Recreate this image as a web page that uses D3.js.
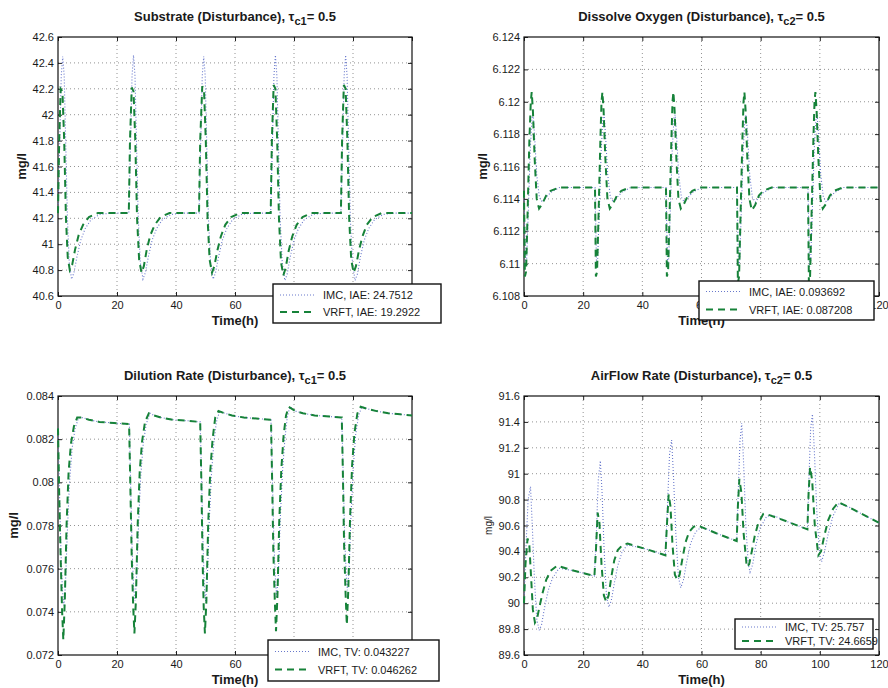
<!DOCTYPE html>
<html>
<head>
<meta charset="utf-8">
<script src="https://cdn.jsdelivr.net/npm/d3@7"></script>
<style>
  body { margin: 0; background: #fff; }
  text { font-family: "Liberation Sans", Arial, sans-serif; fill: #1a1a1a; }
</style>
</head>
<body>
<div id="chart"></div>
<script>
// x axis is the same for all four plots
var timeTicks = [0, 20, 40, 60, 80, 100, 120];

// ---- Substrate ----
var subTicks = [40.6, 40.8, 41, 41.2, 41.4, 41.6, 41.8, 42, 42.2, 42.4, 42.6];
var subImc = [
  [0, 41.24], [0.5, 41.7], [1.1, 42.3], [1.6, 42.45], [2.1, 42.3], [2.6, 41.8], [3.2, 41.2], [3.8, 40.86], [4.6, 40.73], [5.4, 40.78], [6.4, 40.9], [7.7, 41.03], [9.2, 41.12], [11.2, 41.19], [14.2, 41.23], [18, 41.24], [24.0, 41.24],
  [24.5, 41.7], [25.1, 42.3], [25.6, 42.46], [26.1, 42.3], [26.6, 41.8], [27.2, 41.2], [27.9, 40.86], [28.8, 40.73], [29.6, 40.78], [30.6, 40.9], [31.9, 41.03], [33.4, 41.12], [35.4, 41.19], [38.4, 41.23], [42, 41.24], [47.8, 41.24],
  [48.3, 41.7], [48.9, 42.3], [49.4, 42.45], [49.9, 42.3], [50.4, 41.8], [51.0, 41.2], [51.7, 40.86], [52.6, 40.73], [53.4, 40.78], [54.4, 40.9], [55.7, 41.03], [57.2, 41.12], [59.2, 41.19], [62.2, 41.23], [66, 41.24], [72.1, 41.24],
  [72.6, 41.7], [73.2, 42.3], [73.7, 42.46], [74.2, 42.3], [74.7, 41.8], [75.3, 41.2], [76.0, 40.86], [76.9, 40.72], [77.7, 40.77], [78.7, 40.9], [80.0, 41.03], [81.5, 41.12], [83.5, 41.19], [86.5, 41.23], [90, 41.24], [95.9, 41.24],
  [96.4, 41.7], [97.0, 42.3], [97.5, 42.46], [98.0, 42.3], [98.5, 41.8], [99.1, 41.2], [99.8, 40.86], [100.7, 40.72], [101.5, 40.77], [102.5, 40.9], [103.8, 41.03], [105.3, 41.12], [107.3, 41.19], [110.3, 41.23], [114, 41.24], [120, 41.24]
];
var subVrft = [
  [0, 41.24], [0.4, 41.8], [0.9, 42.2], [1.5, 42.18], [2.1, 41.8], [2.7, 41.2], [3.3, 40.9], [4.0, 40.8], [4.8, 40.84], [5.8, 40.96], [7.0, 41.07], [8.5, 41.15], [10.5, 41.21], [13.5, 41.24], [24.0, 41.24],
  [24.4, 41.8], [25.0, 42.21], [25.6, 42.18], [26.2, 41.8], [26.8, 41.2], [27.5, 40.88], [28.3, 40.78], [29.1, 40.83], [30.1, 40.96], [31.3, 41.07], [32.8, 41.15], [34.8, 41.21], [37.8, 41.24], [47.8, 41.24],
  [48.2, 41.8], [48.9, 42.22], [49.5, 42.19], [50.1, 41.8], [50.7, 41.2], [51.4, 40.88], [52.2, 40.78], [53.0, 40.83], [54.0, 40.95], [55.2, 41.06], [56.7, 41.15], [58.7, 41.21], [61.7, 41.24], [72.1, 41.24],
  [72.5, 41.8], [73.1, 42.23], [73.7, 42.2], [74.3, 41.8], [74.9, 41.2], [75.6, 40.86], [76.4, 40.76], [77.2, 40.82], [78.2, 40.95], [79.4, 41.06], [80.9, 41.15], [82.9, 41.21], [85.9, 41.24], [95.9, 41.24],
  [96.3, 41.8], [96.9, 42.23], [97.5, 42.2], [98.1, 41.8], [98.7, 41.2], [99.4, 40.88], [100.2, 40.78], [101.0, 40.83], [102.0, 40.95], [103.2, 41.06], [104.7, 41.15], [106.7, 41.21], [109.7, 41.24], [120, 41.24]
];

// ---- Dissolve oxygen ----
var doTicks = [6.108, 6.11, 6.112, 6.114, 6.116, 6.118, 6.12, 6.122, 6.124];
var doImc = [
  [0, 6.1145], [0.5, 6.1100], [0.9, 6.1103], [1.5, 6.1135], [2.1, 6.1170], [2.7, 6.1190], [3.1, 6.1192], [3.6, 6.1178], [4.3, 6.1155], [5.2, 6.1141], [6.2, 6.1138], [7.5, 6.1141], [9.0, 6.1144], [12, 6.1147], [24.0, 6.1147],
  [24.5, 6.1100], [24.9, 6.1103], [25.5, 6.1135], [26.1, 6.1170], [26.7, 6.1190], [27.1, 6.1192], [27.6, 6.1178], [28.3, 6.1155], [29.2, 6.1141], [30.2, 6.1138], [31.5, 6.1141], [33.0, 6.1144], [36, 6.1147], [48.0, 6.1147],
  [48.5, 6.1100], [48.9, 6.1103], [49.5, 6.1135], [50.1, 6.1170], [50.7, 6.1190], [51.1, 6.1192], [51.6, 6.1178], [52.3, 6.1155], [53.2, 6.1141], [54.2, 6.1138], [55.5, 6.1141], [57.0, 6.1144], [60, 6.1147], [72.0, 6.1147],
  [72.5, 6.1098], [72.9, 6.1101], [73.5, 6.1135], [74.1, 6.1170], [74.7, 6.1190], [75.1, 6.1192], [75.6, 6.1178], [76.3, 6.1155], [77.2, 6.1141], [78.2, 6.1138], [79.5, 6.1141], [81.0, 6.1144], [84, 6.1147], [96.0, 6.1147],
  [96.5, 6.1098], [96.9, 6.1101], [97.5, 6.1135], [98.1, 6.1170], [98.7, 6.1190], [99.1, 6.1192], [99.6, 6.1178], [100.3, 6.1155], [101.2, 6.1141], [102.2, 6.1138], [103.5, 6.1141], [105.0, 6.1144], [108, 6.1147], [120, 6.1147]
];
var doVrft = [
  [0, 6.1145], [0.3, 6.1092], [0.7, 6.1095], [1.2, 6.1130], [1.8, 6.1175], [2.3, 6.1200], [2.6, 6.1206], [3.0, 6.1195], [3.6, 6.1165], [4.3, 6.1140], [5.1, 6.1134], [6.2, 6.1137], [7.5, 6.1142], [9.0, 6.1145], [11.8, 6.1147], [24.0, 6.1147],
  [24.3, 6.1092], [24.7, 6.1095], [25.2, 6.1130], [25.8, 6.1175], [26.2, 6.1200], [26.5, 6.1206], [26.9, 6.1195], [27.5, 6.1165], [28.2, 6.1140], [29.0, 6.1134], [30.1, 6.1137], [31.4, 6.1142], [32.9, 6.1145], [35.7, 6.1147], [48.0, 6.1147],
  [48.3, 6.1092], [48.7, 6.1095], [49.2, 6.1130], [49.8, 6.1175], [50.2, 6.1200], [50.5, 6.1206], [50.9, 6.1195], [51.5, 6.1165], [52.2, 6.1140], [53.0, 6.1134], [54.1, 6.1137], [55.4, 6.1142], [56.9, 6.1145], [59.7, 6.1147], [72.0, 6.1147],
  [72.3, 6.1088], [72.7, 6.1092], [73.2, 6.1130], [73.8, 6.1175], [74.2, 6.1200], [74.5, 6.1206], [74.9, 6.1195], [75.5, 6.1165], [76.2, 6.1140], [77.0, 6.1133], [78.1, 6.1136], [79.4, 6.1142], [80.9, 6.1145], [83.7, 6.1147], [96.0, 6.1147],
  [96.3, 6.1088], [96.7, 6.1092], [97.2, 6.1130], [97.8, 6.1175], [98.2, 6.1200], [98.5, 6.1206], [98.9, 6.1195], [99.5, 6.1165], [100.2, 6.1140], [101.0, 6.1134], [102.1, 6.1137], [103.4, 6.1142], [104.9, 6.1145], [107.7, 6.1147], [120, 6.1147]
];

// ---- Dilution rate ----
var dilTicks = [0.072, 0.074, 0.076, 0.078, 0.08, 0.082, 0.084];
var dilImc = [
  [0, 0.0825], [0.5, 0.0795], [1.0, 0.0768], [1.5, 0.0750], [2.0, 0.0743], [2.5, 0.0752], [3.2, 0.0778], [3.9, 0.0800], [4.8, 0.0816], [5.8, 0.0825], [7.0, 0.0830], [8.5, 0.0830], [10.5, 0.0829], [14, 0.0828], [19, 0.08275], [23.9, 0.0827],
  [24.2, 0.0827], [24.6, 0.0800], [25.1, 0.0770], [25.6, 0.0752], [26.1, 0.0745], [26.6, 0.0755], [27.3, 0.0780], [28.0, 0.0802], [28.9, 0.0818], [29.9, 0.0827], [31.2, 0.0832], [32.5, 0.0831], [35, 0.0830], [39, 0.0829], [44, 0.08285], [48.0, 0.0828],
  [48.2, 0.0828], [48.7, 0.0800], [49.2, 0.0770], [49.6, 0.0752], [50.0, 0.0745], [50.6, 0.0755], [51.2, 0.0780], [52.0, 0.0803], [52.8, 0.0818], [53.7, 0.0828], [54.8, 0.0833], [56.5, 0.0832], [59, 0.0831], [63, 0.0830], [68, 0.08295], [72.0, 0.0829],
  [72.2, 0.0829], [72.7, 0.0800], [73.2, 0.0772], [73.7, 0.0755], [74.1, 0.0747], [74.7, 0.0757], [75.3, 0.0782], [76.1, 0.0805], [76.9, 0.0820], [77.7, 0.0830], [78.6, 0.0835], [80.5, 0.0833], [83, 0.0832], [87, 0.0831], [92, 0.08305], [96.0, 0.0830],
  [96.2, 0.0830], [96.7, 0.0802], [97.2, 0.0774], [97.7, 0.0757], [98.1, 0.0750], [98.7, 0.0760], [99.3, 0.0784], [100.1, 0.0807], [100.9, 0.0822], [101.9, 0.0831], [103.0, 0.0835], [105, 0.0834], [108, 0.0833], [112, 0.0832], [116, 0.08315], [120, 0.0831]
];
var dilVrft = [
  [0, 0.0825], [0.4, 0.0795], [0.9, 0.0765], [1.4, 0.0740], [1.8, 0.0727], [2.3, 0.0745], [2.9, 0.0780], [3.6, 0.0805], [4.4, 0.0818], [5.4, 0.0826], [6.5, 0.0830], [8.0, 0.0830], [10.5, 0.0829], [14, 0.0828], [19, 0.08275], [23.9, 0.0827],
  [24.1, 0.0827], [24.5, 0.0800], [25.0, 0.0765], [25.5, 0.0742], [25.9, 0.0730], [26.4, 0.0745], [27.0, 0.0780], [27.7, 0.0805], [28.5, 0.0819], [29.5, 0.0828], [30.8, 0.0832], [32.5, 0.0831], [35, 0.0830], [39, 0.0829], [44, 0.08285], [48.0, 0.0828],
  [48.2, 0.0828], [48.6, 0.0800], [49.0, 0.0765], [49.4, 0.0742], [49.8, 0.0730], [50.3, 0.0745], [50.9, 0.0780], [51.6, 0.0805], [52.4, 0.0820], [53.3, 0.0830], [54.4, 0.0833], [56.5, 0.0832], [59, 0.0831], [63, 0.0830], [68, 0.08295], [72.0, 0.0829],
  [72.2, 0.0829], [72.6, 0.0800], [73.0, 0.0768], [73.5, 0.0745], [73.9, 0.0731], [74.4, 0.0748], [75.0, 0.0782], [75.7, 0.0806], [76.5, 0.0822], [77.3, 0.0831], [78.2, 0.0835], [80.5, 0.0833], [83, 0.0832], [87, 0.0831], [92, 0.08305], [96.0, 0.0830],
  [96.2, 0.0830], [96.6, 0.0802], [97.0, 0.0770], [97.5, 0.0748], [97.9, 0.0734], [98.4, 0.0750], [99.0, 0.0783], [99.7, 0.0808], [100.5, 0.0823], [101.5, 0.0832], [102.6, 0.0835], [105, 0.0834], [108, 0.0833], [112, 0.0832], [116, 0.08315], [120, 0.0831]
];

// ---- Airflow rate ----
var airTicks = [89.6, 89.8, 90, 90.2, 90.4, 90.6, 90.8, 91, 91.2, 91.4, 91.6];
var airImc = [
  [0, 90.0], [0.6, 90.4], [1.4, 90.8], [2.2, 90.9], [2.8, 90.6], [3.5, 90.2], [4.3, 89.88], [5.1, 89.79], [5.9, 89.83], [6.9, 89.96], [8.2, 90.1], [9.6, 90.19], [11.8, 90.27], [17, 90.25], [23.8, 90.21],
  [24.4, 90.5], [25.1, 90.95], [25.8, 91.1], [26.4, 90.85], [27.1, 90.4], [27.9, 90.05], [28.7, 89.97], [29.5, 90.02], [30.5, 90.15], [31.7, 90.29], [33.2, 90.4], [35.0, 90.45], [41, 90.42], [47.8, 90.37],
  [48.4, 90.7], [49.2, 91.15], [49.9, 91.26], [50.5, 91.0], [51.3, 90.55], [52.2, 90.2], [53.0, 90.12], [53.9, 90.18], [55.0, 90.32], [56.3, 90.46], [58, 90.55], [60, 90.59], [65, 90.54], [71.9, 90.48],
  [72.4, 90.85], [73.0, 91.25], [73.6, 91.39], [74.2, 91.1], [75.0, 90.6], [75.8, 90.3], [76.4, 90.24], [77.3, 90.3], [78.4, 90.45], [79.8, 90.58], [82, 90.67], [84, 90.68], [89, 90.63], [95.8, 90.57],
  [96.3, 90.95], [96.9, 91.35], [97.5, 91.46], [98.1, 91.2], [99.0, 90.7], [99.9, 90.38], [100.6, 90.32], [101.6, 90.4], [102.8, 90.53], [104.4, 90.67], [106.5, 90.77], [110, 90.74], [115, 90.68], [120, 90.62]
];
var airVrft = [
  [0, 90.0], [0.5, 90.3], [1.2, 90.5], [1.8, 90.45], [2.4, 90.2], [3.0, 89.95], [3.7, 89.85], [4.4, 89.88], [5.3, 89.98], [6.3, 90.08], [7.5, 90.18], [9.0, 90.25], [11.2, 90.29], [17, 90.25], [23.8, 90.21],
  [24.3, 90.4], [24.9, 90.7], [25.5, 90.62], [26.2, 90.3], [27.0, 90.06], [27.8, 90.01], [28.6, 90.06], [29.5, 90.2], [30.5, 90.33], [31.7, 90.41], [33.3, 90.45], [35.0, 90.46], [41, 90.42], [47.8, 90.37],
  [48.3, 90.6], [48.9, 90.84], [49.5, 90.75], [50.2, 90.45], [51.0, 90.22], [51.8, 90.18], [52.6, 90.22], [53.6, 90.35], [54.6, 90.47], [55.8, 90.55], [57.3, 90.59], [58.8, 90.6], [65, 90.54], [71.9, 90.48],
  [72.3, 90.75], [72.8, 90.96], [73.5, 90.85], [74.2, 90.55], [75.3, 90.28], [76.1, 90.3], [77.0, 90.4], [78.0, 90.52], [79.2, 90.62], [80.9, 90.69], [83, 90.68], [89, 90.63], [95.8, 90.57],
  [96.2, 90.85], [96.7, 91.05], [97.4, 90.95], [98.3, 90.6], [99.5, 90.37], [100.4, 90.4], [101.5, 90.52], [102.8, 90.64], [104.5, 90.73], [106.3, 90.78], [110, 90.74], [115, 90.68], [120, 90.62]
];

var subLegend = ['IMC, IAE: 24.7512', 'VRFT, IAE: 19.2922'];
var doLegend = ['IMC, IAE: 0.093692', 'VRFT, IAE: 0.087208'];
var dilLegend = ['IMC, TV: 0.043227', 'VRFT, TV: 0.046262'];
var airLegend = ['IMC, TV: 25.757', 'VRFT, TV: 24.6659'];

const width = 888;
const height = 688;
const imcColor = '#6878cc';
const vrftColor = '#168239';

const svg = d3.select('#chart').append('svg')
  .attr('width', width)
  .attr('height', height);
svg.append('rect').attr('width', width).attr('height', height).attr('fill', '#fff');

var fmt = function(v){ return String(+v.toFixed(4)); };

function drawPanel(p){
  var g = svg.append('g');
  var xScale = d3.scaleLinear().domain([0, 120]).range([p.left, p.right]);
  var yScale = d3.scaleLinear().domain([p.yTicks[0], p.yTicks[p.yTicks.length-1]]).range([p.bottom, p.top]);
  var w = p.right - p.left, h = p.bottom - p.top;
  var legRight = p.leg[0] + p.leg[2];
  var legBottom = p.leg[1] + p.leg[3];

  // dotted grid
  g.selectAll('.gx').data(timeTicks.slice(1, -1)).join('line')
    .attr('x1', d => xScale(d)).attr('x2', d => xScale(d))
    .attr('y1', p.top).attr('y2', p.bottom)
    .attr('stroke', '#777').attr('stroke-width', 0.8).attr('stroke-dasharray', '1,3');
  g.selectAll('.gy').data(p.yTicks.slice(1, -1)).join('line')
    .attr('x1', p.left).attr('x2', p.right)
    .attr('y1', d => yScale(d)).attr('y2', d => yScale(d))
    .attr('stroke', '#777').attr('stroke-width', 0.8).attr('stroke-dasharray', '1,3');

  // axes, ticks pointing inward like matlab
  var ax = g.append('g').attr('transform', 'translate(0,' + p.bottom + ')')
    .call(d3.axisBottom(xScale).tickValues(timeTicks).tickSize(-4).tickPadding(5).tickFormat(d3.format('d')));
  // labels sitting completely under the legend box are not visible in the original
  if (legBottom > p.bottom + 14) {
    ax.selectAll('.tick text').filter(d => xScale(d) - 10 > p.leg[0] && xScale(d) + 10 < legRight).remove();
  }
  g.append('g').attr('transform', 'translate(0,' + p.top + ')')
    .call(d3.axisTop(xScale).tickValues(timeTicks).tickSize(-4).tickFormat(''));
  g.append('g').attr('transform', 'translate(' + p.left + ',0)')
    .call(d3.axisLeft(yScale).tickValues(p.yTicks).tickSize(-4).tickPadding(4).tickFormat(fmt));
  g.append('g').attr('transform', 'translate(' + p.right + ',0)')
    .call(d3.axisRight(yScale).tickValues(p.yTicks).tickSize(-4).tickFormat(''));
  g.selectAll('.domain').remove();
  g.selectAll('.tick line').attr('stroke', '#222');
  g.selectAll('.tick text').style('font-size', '11px').style('font-family', '"Liberation Sans", Arial, sans-serif').attr('fill', '#222');

  g.append('rect').attr('x', p.left).attr('y', p.top).attr('width', w).attr('height', h)
    .attr('fill', 'none').attr('stroke', '#111').attr('stroke-width', 1.2);

  var line = d3.line().x(d => xScale(d[0])).y(d => yScale(d[1]));
  g.append('path').datum(p.imc).attr('d', line)
    .attr('fill', 'none').attr('stroke', imcColor).attr('stroke-width', 1.1).attr('stroke-dasharray', '1,2');
  g.append('path').datum(p.vrft).attr('d', line)
    .attr('fill', 'none').attr('stroke', vrftColor).attr('stroke-width', 2).attr('stroke-dasharray', '7,5');

  // title with subscript
  var t = g.append('text').attr('x', (p.left + p.right)/2).attr('y', p.top - 16)
    .attr('text-anchor', 'middle').style('font-size', '13px').style('font-weight', 'bold');
  t.append('tspan').text(p.title + ', \u03c4');
  t.append('tspan').attr('dy', 4).style('font-size', '11px').text(p.sub);
  t.append('tspan').attr('dy', -4).text('= 0.5');

  g.append('text').attr('x', (p.left + p.right)/2).attr('y', p.bottom + 29)
    .attr('text-anchor', 'middle').style('font-size', '13px').style('font-weight', 'bold').text('Time(h)');

  g.append('text').attr('transform', 'translate(' + p.ylabX + ',' + (p.top + h/2) + ') rotate(-90)')
    .attr('text-anchor', 'middle').style('font-size', p.ylabBold ? '13px' : '10px')
    .style('font-weight', p.ylabBold ? 'bold' : 'normal').text('mg/l');

  // legend box
  var lg = g.append('g');
  lg.append('rect').attr('x', p.leg[0]).attr('y', p.leg[1]).attr('width', p.leg[2]).attr('height', p.leg[3])
    .attr('fill', '#fff').attr('stroke', '#111').attr('stroke-width', 1.4);
  var rowH = p.leg[4];
  var rows = [{c: imcColor, dash: '1,2', sw: 1.1}, {c: vrftColor, dash: '7,5', sw: 2}];
  rows.forEach(function(r, i){
    var cy = p.leg[1] + p.leg[3]/2 + (i - 0.5) * rowH;
    lg.append('line').attr('x1', p.leg[0] + 7).attr('x2', p.leg[0] + 42)
      .attr('y1', cy).attr('y2', cy)
      .attr('stroke', r.c).attr('stroke-width', r.sw).attr('stroke-dasharray', r.dash);
    lg.append('text').attr('x', p.leg[0] + 50).attr('y', cy + 4)
      .style('font-size', '11px').text(p.legend[i]);
  });
}

drawPanel({left: 58, right: 412, top: 37, bottom: 296, yTicks: subTicks, imc: subImc, vrft: subVrft,
  title: 'Substrate (Disturbance)', sub: 'c1', ylabX: 26, ylabBold: true,
  leg: [273, 284, 168, 39, 17], legend: subLegend});
drawPanel({left: 524, right: 879, top: 37, bottom: 296, yTicks: doTicks, imc: doImc, vrft: doVrft,
  title: 'Dissolve Oxygen (Disturbance)', sub: 'c2', ylabX: 487, ylabBold: true,
  leg: [699, 281, 175, 39, 18], legend: doLegend});
drawPanel({left: 58, right: 412, top: 396, bottom: 655, yTicks: dilTicks, imc: dilImc, vrft: dilVrft,
  title: 'Dilution Rate (Disturbance)', sub: 'c1', ylabX: 18, ylabBold: true,
  leg: [268, 640, 171, 41, 18], legend: dilLegend});
drawPanel({left: 524, right: 879, top: 396, bottom: 655, yTicks: airTicks, imc: airImc, vrft: airVrft,
  title: 'AirFlow Rate (Disturbance)', sub: 'c2', ylabX: 492, ylabBold: false,
  leg: [735, 619, 138, 30, 14], legend: airLegend});
</script>
</body>
</html>
